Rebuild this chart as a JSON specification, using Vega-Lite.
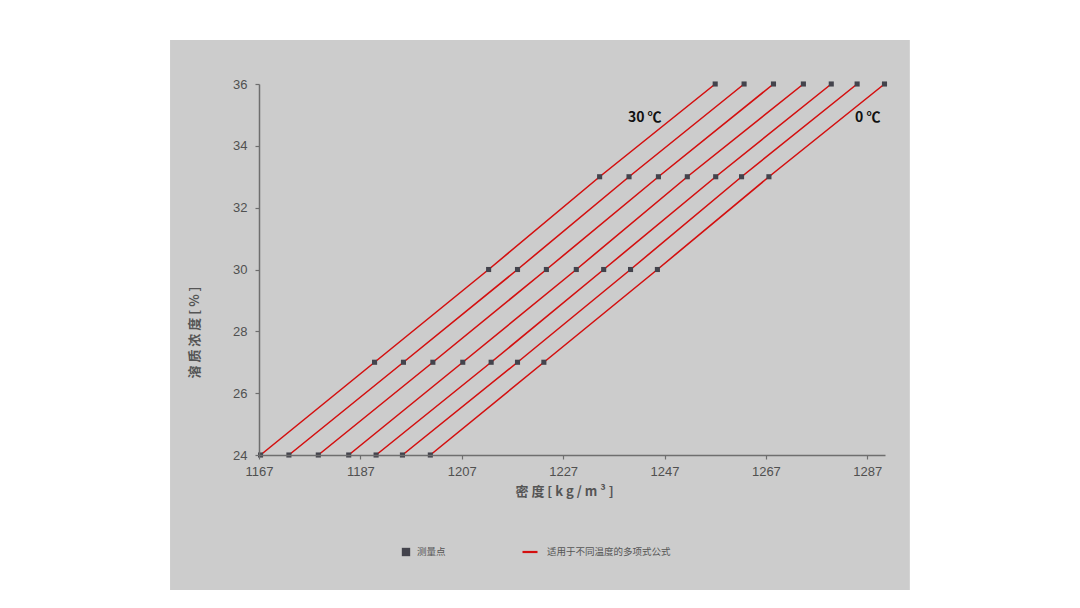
{
  "$schema": "https://vega.github.io/schema/vega-lite/v6.json",
  "width": 626,
  "height": 371,
  "autosize": {"type": "none"},
  "padding": {"left": 259, "top": 84, "right": 195, "bottom": 153},
  "background": "#ffffff",
  "config": {
    "view": {"stroke": null},
    "font": "Liberation Sans",
    "axis": {
      "grid": false,
      "domainColor": "#6e6e6e",
      "domainWidth": 1.5,
      "tickColor": "#6e6e6e",
      "tickWidth": 1.2,
      "tickSize": 4,
      "labelFont": "Liberation Sans",
      "labelFontSize": 13,
      "labelColor": "#505050",
      "labelFlush": false,
      "titleFont": "Noto Sans CJK SC",
      "titleFontSize": 13,
      "titleFontWeight": "bold",
      "titleColor": "#555555"
    }
  },
  "datasets": {
    "pts": [
      {"t": 30, "d": 1167.3, "c": 24}, {"t": 30, "d": 1189.8, "c": 27}, {"t": 30, "d": 1212.3, "c": 30}, {"t": 30, "d": 1234.2, "c": 33}, {"t": 30, "d": 1257.0, "c": 36},
      {"t": 25, "d": 1172.9, "c": 24}, {"t": 25, "d": 1195.5, "c": 27}, {"t": 25, "d": 1218.0, "c": 30}, {"t": 25, "d": 1240.0, "c": 33}, {"t": 25, "d": 1262.7, "c": 36},
      {"t": 20, "d": 1178.7, "c": 24}, {"t": 20, "d": 1201.3, "c": 27}, {"t": 20, "d": 1223.7, "c": 30}, {"t": 20, "d": 1245.8, "c": 33}, {"t": 20, "d": 1268.5, "c": 36},
      {"t": 15, "d": 1184.7, "c": 24}, {"t": 15, "d": 1207.2, "c": 27}, {"t": 15, "d": 1229.6, "c": 30}, {"t": 15, "d": 1251.5, "c": 33}, {"t": 15, "d": 1274.4, "c": 36},
      {"t": 10, "d": 1190.1, "c": 24}, {"t": 10, "d": 1212.8, "c": 27}, {"t": 10, "d": 1235.0, "c": 30}, {"t": 10, "d": 1257.1, "c": 33}, {"t": 10, "d": 1279.9, "c": 36},
      {"t": 5, "d": 1195.3, "c": 24}, {"t": 5, "d": 1218.0, "c": 27}, {"t": 5, "d": 1240.3, "c": 30}, {"t": 5, "d": 1262.2, "c": 33}, {"t": 5, "d": 1285.0, "c": 36},
      {"t": 0, "d": 1200.8, "c": 24}, {"t": 0, "d": 1223.2, "c": 27}, {"t": 0, "d": 1245.6, "c": 30}, {"t": 0, "d": 1267.6, "c": 33}, {"t": 0, "d": 1290.4, "c": 36}
    ],
    "labels": [
      {"label": "30 ℃", "d": 1243.1, "c": 34.9},
      {"label": "0 ℃", "d": 1287.1, "c": 34.9}
    ]
  },
  "layer": [
    {
      "data": {"values": [{}]},
      "mark": {"type": "rect", "color": "#cccccc", "clip": false},
      "encoding": {
        "x": {
          "datum": 1149.45,
          "type": "quantitative",
          "scale": {"domain": [1167, 1290.5], "nice": false, "zero": false},
          "axis": {
            "zindex": 1,
            "format": "d",
            "values": [1167, 1187, 1207, 1227, 1247, 1267, 1287],
            "labelPadding": 6,
            "title": "密 度  [ k g / m ³ ]",
            "titlePadding": 7,
            "titleX": 305
          }
        },
        "x2": {"datum": 1295.4},
        "y": {
          "datum": 37.42,
          "type": "quantitative",
          "scale": {"domain": [24, 36], "nice": false, "zero": false},
          "axis": {
            "zindex": 1,
            "format": "d",
            "values": [24, 26, 28, 30, 32, 34, 36],
            "labelPadding": 8,
            "title": "溶 质 浓 度  [ % ]",
            "titleX": -65,
            "titleY": 248,
            "titleAlign": "center",
            "titleBaseline": "middle",
            "titleAngle": -90
          }
        },
        "y2": {"datum": 19.63}
      }
    },
    {
      "data": {"name": "pts"},
      "mark": {"type": "line", "strokeWidth": 1.6},
      "encoding": {
        "x": {"field": "d", "type": "quantitative"},
        "y": {"field": "c", "type": "quantitative"},
        "detail": {"field": "t", "type": "nominal"},
        "order": {"field": "c", "type": "quantitative"},
        "stroke": {
          "datum": "适用于不同温度的多项式公式",
          "type": "nominal",
          "scale": {"range": ["#d40f0f"]},
          "legend": {
            "title": null,
            "orient": "none",
            "legendX": 262,
            "legendY": 459,
            "symbolType": "stroke",
            "symbolSize": 225,
            "symbolStrokeWidth": 2.2,
            "labelFont": "Noto Sans CJK SC",
            "labelFontSize": 9.5,
            "labelColor": "#555555",
            "labelOffset": 8
          }
        }
      }
    },
    {
      "data": {"name": "pts"},
      "mark": {"type": "square", "size": 26, "opacity": 1},
      "encoding": {
        "x": {"field": "d", "type": "quantitative"},
        "y": {"field": "c", "type": "quantitative"},
        "fill": {
          "datum": "测量点",
          "type": "nominal",
          "scale": {"range": ["#43434c"]},
          "legend": {
            "title": null,
            "orient": "none",
            "legendX": 142,
            "legendY": 463,
            "symbolType": "square",
            "symbolSize": 70,
            "labelFont": "Noto Sans CJK SC",
            "labelFontSize": 9.5,
            "labelColor": "#555555",
            "labelOffset": 6
          }
        }
      }
    },
    {
      "data": {"name": "labels"},
      "mark": {"type": "text", "font": "Noto Sans CJK SC", "fontWeight": "bold", "fontSize": 14, "color": "#111111", "align": "center", "baseline": "middle"},
      "encoding": {
        "x": {"field": "d", "type": "quantitative"},
        "y": {"field": "c", "type": "quantitative"},
        "text": {"field": "label"}
      }
    }
  ]
}
